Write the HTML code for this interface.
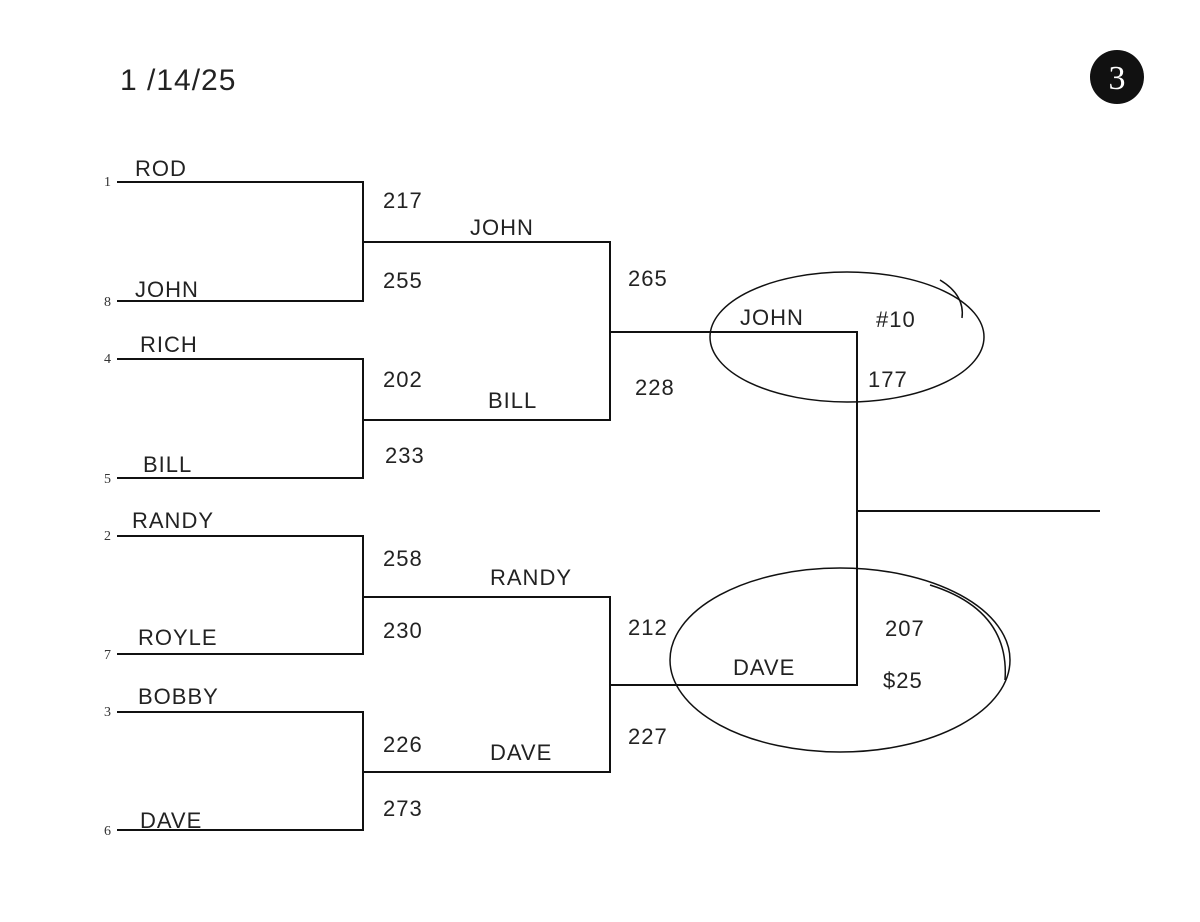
<!DOCTYPE html>
<html><head><meta charset="utf-8"><style>
html,body{margin:0;padding:0;background:#fff;}
svg{display:block;}
.h{font-family:"Liberation Sans",sans-serif;font-size:22px;fill:#222;letter-spacing:1px;}
.n{font-family:"Liberation Serif",serif;font-size:14px;fill:#333;}
</style></head><body>
<svg width="1200" height="922" viewBox="0 0 1200 922" xmlns="http://www.w3.org/2000/svg">
<rect width="1200" height="922" fill="#fff"/>
<g stroke="#111" stroke-width="2" fill="none">
<path d="M117 182H363V301H117M117 359H363V478H117M117 536H363V654H117M117 712H363V830H117"/>
<path d="M363 242H610V420H363M363 597H610V772H363"/>
<path d="M610 332H857V685H610M857 511H1100"/>
<ellipse cx="847" cy="337" rx="137" ry="65" stroke-width="1.5"/>
<ellipse cx="840" cy="660" rx="170" ry="92" stroke-width="1.5"/>
<path d="M940 280 Q965 295 962 318" stroke-width="1.5"/>
<path d="M930 585 Q1010 610 1005 680" stroke-width="1.5"/>
</g>
<circle cx="1117" cy="77" r="27" fill="#111"/>
<text x="1117" y="89" text-anchor="middle" font-family="Liberation Serif,serif" font-size="34" fill="#fff">3</text>
<text x="120" y="90" class="h" style="font-size:30px">1 /14/25</text>
<g class="n">
<text x="104" y="186">1</text><text x="104" y="306">8</text><text x="104" y="363">4</text><text x="104" y="483">5</text>
<text x="104" y="540">2</text><text x="104" y="659">7</text><text x="104" y="716">3</text><text x="104" y="835">6</text>
</g>
<g class="h">
<text x="135" y="176">ROD</text>
<text x="135" y="297">JOHN</text>
<text x="140" y="352">RICH</text>
<text x="143" y="472">BILL</text>
<text x="132" y="528">RANDY</text>
<text x="138" y="645">ROYLE</text>
<text x="138" y="704">BOBBY</text>
<text x="140" y="828">DAVE</text>
<text x="383" y="208">217</text><text x="383" y="288">255</text>
<text x="383" y="387">202</text><text x="385" y="463">233</text>
<text x="383" y="566">258</text><text x="383" y="638">230</text>
<text x="383" y="752">226</text><text x="383" y="816">273</text>
<text x="470" y="235">JOHN</text>
<text x="488" y="408">BILL</text>
<text x="490" y="585">RANDY</text>
<text x="490" y="760">DAVE</text>
<text x="628" y="286">265</text><text x="635" y="395">228</text>
<text x="628" y="635">212</text><text x="628" y="744">227</text>
<text x="740" y="325">JOHN</text>
<text x="876" y="327">#10</text>
<text x="868" y="387">177</text>
<text x="733" y="675">DAVE</text>
<text x="885" y="636">207</text>
<text x="883" y="688">$25</text>
</g>
</svg>
</body></html>
